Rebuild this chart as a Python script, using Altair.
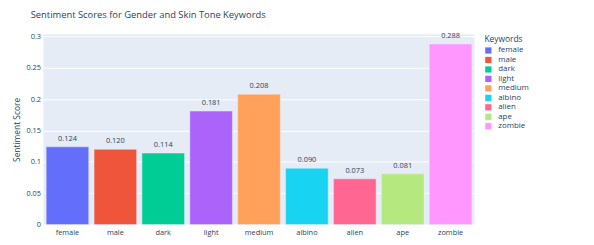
import altair as alt
import pandas as pd

keywords = ["female", "male", "dark", "light", "medium", "albino", "alien", "ape", "zombie"]
scores = [0.124, 0.120, 0.114, 0.181, 0.208, 0.090, 0.073, 0.081, 0.288]
colors = ["#636efa", "#EF553B", "#00cc96", "#ab63fa", "#FFA15A", "#19d3f3", "#FF6692", "#B6E880", "#FF97FF"]
y_ticks = [0, 0.05, 0.1, 0.15, 0.2, 0.25, 0.3]

df = pd.DataFrame({"Keywords": keywords, "Score": scores})

FONT = "Open Sans"
TXT = "#2a3f5f"

xscale = alt.Scale(paddingInner=0.11, paddingOuter=0.055)
yscale = alt.Scale(domain=[0, 0.3035], nice=False, zero=True)

x = alt.X("Keywords:N", sort=keywords, scale=xscale,
          axis=alt.Axis(title="Keywords", labelAngle=0, domain=False, ticks=False,
                        grid=False, labelFontSize=7.5, labelColor=TXT, labelPadding=4,
                        titleFontSize=8.5, titleColor=TXT, titleFontWeight="normal",
                        titlePadding=6, labelFont=FONT, titleFont=FONT))
y = alt.Y("Score:Q", scale=yscale,
          axis=alt.Axis(title="Sentiment Score", values=y_ticks,
                        format="~g", domain=False, ticks=False, gridColor="white",
                        gridWidth=1, labelFontSize=7.5, labelColor=TXT, labelPadding=3,
                        labelOverlap=False, labelBound=False,
                        titleFontSize=8.5, titleColor=TXT, titleFontWeight="normal",
                        titlePadding=5, labelFont=FONT, titleFont=FONT))

base = alt.Chart(df).encode(x=x, y=y)

bars = base.mark_bar(stroke="#E5ECF6", strokeWidth=0.5).encode(
    color=alt.Color("Keywords:N", sort=keywords,
                    scale=alt.Scale(domain=keywords, range=colors),
                    legend=alt.Legend(title="Keywords", orient="none", legendX=447, legendY=1,
                                      symbolType="square", symbolSize=40, symbolStrokeWidth=0,
                                      labelFontSize=8, titleFontSize=8.5, titleFontWeight="normal",
                                      titleColor=TXT, labelColor=TXT, rowPadding=1.6,
                                      labelFont=FONT, titleFont=FONT, titlePadding=3,
                                      labelOffset=6, padding=0, offset=0))
)

labels = base.mark_text(dy=-4, baseline="bottom", fontSize=7.5, color=TXT, font=FONT).encode(
    text=alt.Text("Score:Q", format=".3f"),
)

chart = (bars + labels).properties(
    width=437, height=193,
    title=alt.TitleParams("Sentiment Scores for Gender and Skin Tone Keywords", anchor="start",
                          frame="group", fontSize=9.5, font=FONT, fontWeight="normal", color=TXT,
                          dx=-13, offset=13),
    autosize=alt.AutoSizeParams(type="none"),
    padding={"left": 36, "top": 25, "right": 113, "bottom": 12},
).configure_view(fill="#E5ECF6", stroke=None)

chart.save("out.html", embed_options={"renderer": "svg", "actions": False})
